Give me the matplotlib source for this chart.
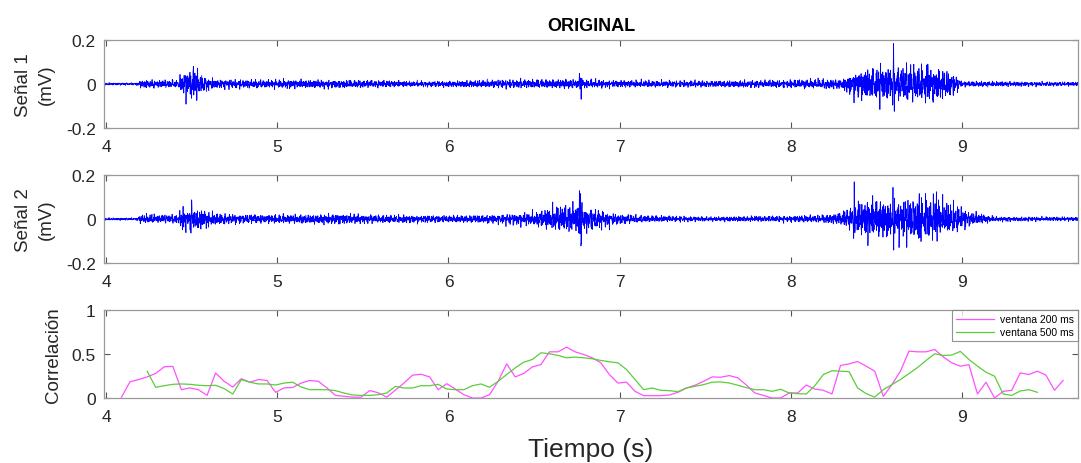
import numpy as np
import matplotlib
matplotlib.use('Agg')
import matplotlib.pyplot as plt

plt.rcParams['font.family'] = ['Liberation Sans', 'DejaVu Sans']

# --- EMG envelopes (mV) read at a few knots along the record ---
s1_knot_t = [3.98, 4.18, 4.20, 4.42, 4.45, 4.50, 4.55, 4.60, 4.65, 5.00, 5.50, 5.80, 6.00,
             6.40, 6.70, 6.80, 7.00, 7.50, 8.00, 8.30, 8.38, 8.45, 8.60, 8.75, 8.90, 8.95,
             9.00, 9.68]
s1_knot_a = [0.003, 0.003, 0.010, 0.010, 0.030, 0.038, 0.025, 0.016, 0.011, 0.011, 0.010,
             0.007, 0.008, 0.011, 0.012, 0.011, 0.009, 0.008, 0.010, 0.013, 0.038, 0.040,
             0.048, 0.045, 0.040, 0.028, 0.007, 0.005]
s1_spike_t = [4.47, 4.51, 4.53, 6.765, 6.775, 8.40, 8.52, 8.60, 8.63, 8.80]
s1_spike_h = [0.05, 0.065, -0.05, 0.05, -0.07, 0.07, -0.07, 0.10, -0.10, 0.08]

s2_knot_t = [3.98, 4.18, 4.20, 4.42, 4.45, 4.55, 4.62, 4.70, 5.00, 5.40, 5.60, 6.00, 6.30,
             6.50, 6.60, 6.75, 6.85, 7.00, 7.20, 7.50, 8.00, 8.20, 8.30, 8.40, 8.60, 8.80,
             8.95, 9.05, 9.20, 9.68]
s2_knot_a = [0.003, 0.003, 0.011, 0.011, 0.026, 0.026, 0.017, 0.012, 0.011, 0.013, 0.010,
             0.009, 0.011, 0.018, 0.030, 0.035, 0.026, 0.013, 0.008, 0.006, 0.008, 0.010,
             0.017, 0.045, 0.052, 0.055, 0.038, 0.017, 0.006, 0.005]
s2_spike_t = [4.45, 4.50, 6.70, 6.765, 6.775, 8.37, 8.45, 8.60, 8.75, 8.76, 8.85]
s2_spike_h = [0.05, 0.065, 0.07, 0.13, -0.12, 0.10, -0.09, -0.10, 0.15, -0.12, 0.11]

# --- windowed correlation between both channels ---
corr200_t0, corr500_t0, corr_step = 4.09, 4.24, 0.05
corr200 = [0.01, 0.185, 0.21, 0.24, 0.28, 0.355, 0.36, 0.095, 0.115, 0.095,
           0.03, 0.285, 0.19, 0.125, 0.22, 0.18, 0.21, 0.20, 0.065, 0.115,
           0.12, 0.17, 0.20, 0.19, 0.115, 0.03, 0.02, 0.01, 0.01, 0.085,
           0.06, 0.01, 0.09, 0.17, 0.26, 0.27, 0.24, 0.095, 0.163, 0.102,
           0.038, 0.0, 0.0, 0.038, 0.19, 0.388, 0.24, 0.28, 0.354, 0.38,
           0.525, 0.525, 0.578, 0.525, 0.495, 0.457, 0.40, 0.267, 0.17, 0.18,
           0.076, 0.027, 0.027, 0.027, 0.034, 0.065, 0.114, 0.145, 0.19, 0.24,
           0.236, 0.255, 0.23, 0.148, 0.057, 0.03, 0.0, 0.0, 0.057, 0.057,
           0.148, 0.102, 0.088, 0.046, 0.37, 0.388, 0.415, 0.362, 0.305, 0.019,
           0.152, 0.305, 0.533, 0.525, 0.525, 0.552, 0.468, 0.40, 0.362, 0.38,
           0.046, 0.18, 0.0, 0.076, 0.088, 0.286, 0.267, 0.305, 0.26, 0.088,
           0.20]
corr500 = [0.305, 0.122, 0.14, 0.156, 0.16, 0.156, 0.145, 0.14, 0.145, 0.107,
           0.046, 0.21, 0.18, 0.16, 0.16, 0.148, 0.17, 0.18, 0.125, 0.095,
           0.095, 0.095, 0.084, 0.057, 0.034, 0.03, 0.03, 0.038, 0.057, 0.133,
           0.114, 0.114, 0.14, 0.14, 0.156, 0.102, 0.095, 0.095, 0.14, 0.16,
           0.122, 0.19, 0.267, 0.343, 0.408, 0.438, 0.514, 0.503, 0.484, 0.457,
           0.465, 0.457, 0.446, 0.427, 0.412, 0.40, 0.324, 0.21, 0.095, 0.114,
           0.088, 0.084, 0.072, 0.114, 0.133, 0.152, 0.18, 0.183, 0.171, 0.145,
           0.118, 0.095, 0.095, 0.076, 0.10, 0.057, 0.05, 0.046, 0.14, 0.267,
           0.31, 0.305, 0.30, 0.114, 0.05, 0.011, 0.095, 0.152, 0.21, 0.278,
           0.347, 0.427, 0.503, 0.484, 0.488, 0.53, 0.438, 0.362, 0.293, 0.248,
           0.046, 0.03, 0.08, 0.095, 0.065]

fs = 1000
t = np.arange(3.985, 9.68, 1 / fs)


def carrier(t, shift):
    # fixed multi-tone oscillation standing in for the raw fibre activity
    freqs = np.array([41.3, 67.9, 93.1, 127.7, 158.9, 203.3, 241.7, 287.9, 331.1, 379.3])
    phases = np.array([0.3, 2.1, 4.4, 1.2, 5.5, 3.3, 0.9, 2.8, 4.9, 1.7]) + shift
    c = np.sin(2 * np.pi * freqs[:, None] * t[None, :] + phases[:, None]).sum(axis=0)
    return c / c.std()


def spikes(t, times, heights):
    out = np.zeros_like(t)
    for t0, h in zip(times, heights):
        out += h * np.exp(-((t - t0) / 0.005) ** 2) * np.cos(2 * np.pi * 110 * (t - t0))
    return out


sig1 = np.interp(t, s1_knot_t, s1_knot_a) * carrier(t, 0.0) * 0.8 + spikes(t, s1_spike_t, s1_spike_h)
sig2 = np.interp(t, s2_knot_t, s2_knot_a) * carrier(t, 1.3) * 0.8 + spikes(t, s2_spike_t, s2_spike_h)

t200 = corr200_t0 + corr_step * np.arange(len(corr200))
t500 = corr500_t0 + corr_step * np.arange(len(corr500))

fig = plt.figure(figsize=(10.81, 4.64), dpi=100)
ax1 = fig.add_axes([0.0962, 0.722, 0.901, 0.1897])
ax2 = fig.add_axes([0.0962, 0.431, 0.901, 0.1897])
ax3 = fig.add_axes([0.0962, 0.140, 0.901, 0.1897])

ax1.plot(t, sig1, color='#0000ff', lw=0.55)
ax2.plot(t, sig2, color='#0000ff', lw=0.55)
ax3.plot(t200, corr200, color='#ff50ff', lw=0.9, label='ventana 200 ms')
ax3.plot(t500, corr500, color='#5ccc3a', lw=0.9, label='ventana 500 ms')

for ax in (ax1, ax2, ax3):
    ax.set_xlim(3.988, 9.677)
    ax.set_xticks([4, 5, 6, 7, 8, 9])
    ax.tick_params(direction='in', length=4, width=0.8, colors='#555555',
                   labelcolor='#262626', labelsize=12.5, top=True, right=True)
    ax.tick_params(axis='x', pad=8)
    ax.tick_params(axis='y', pad=6)
    for s in ax.spines.values():
        s.set_color('#999999')
        s.set_linewidth(0.9)

for ax, name in ((ax1, 'Señal 1\n(mV)'), (ax2, 'Señal 2\n(mV)')):
    ax.set_ylim(-0.2, 0.2)
    ax.set_yticks([-0.2, 0, 0.2])
    ax.set_yticklabels(['-0.2', '0', '0.2'])
    ax.set_ylabel(name, fontsize=13.5, color='#262626', linespacing=1.45)
    ax.yaxis.set_label_coords(-0.050, 0.5)

ax3.set_ylim(0, 1)
ax3.set_yticks([0, 0.5, 1])
ax3.set_yticklabels(['0', '0.5', '1'])
ax3.set_ylabel('Correlación', fontsize=13.5, color='#262626')
ax3.yaxis.set_label_coords(-0.043, 0.5)
ax3.set_xlabel('Tiempo (s)', fontsize=19, color='#262626', labelpad=9)

ax1.set_title('ORIGINAL', fontsize=13, fontweight='bold', pad=7)

leg = ax3.legend(loc='upper right', fontsize=7.5, frameon=True, fancybox=False,
                 borderaxespad=0.0, handlelength=3.6, borderpad=0.4, labelspacing=0.3,
                 handletextpad=0.6)
leg.get_frame().set_edgecolor('#777777')
leg.get_frame().set_linewidth(0.8)

fig.savefig('out.png', dpi=100)
